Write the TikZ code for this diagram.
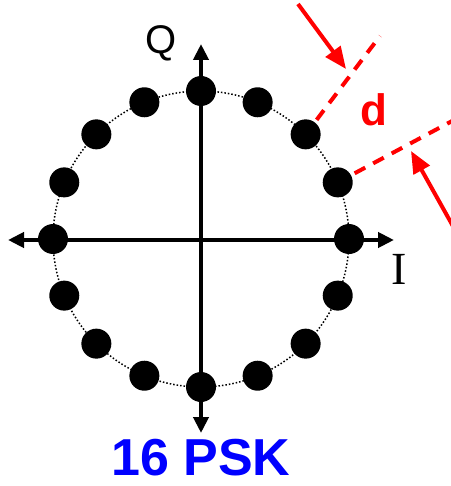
\documentclass[tikz,border=0pt]{standalone}
\usepackage{fontspec}
\setmainfont{Liberation Serif}
\setsansfont{Liberation Sans}
\usetikzlibrary{arrows.meta}
\definecolor{markred}{HTML}{FF0000}
\definecolor{titleblue}{HTML}{0000FF}

\begin{document}
\begin{tikzpicture}[x=1pt, y=-1pt,
  symbol/.style={circle, fill=black, minimum size=30pt, inner sep=0pt},
  axis/.style={{Triangle[length=16pt,width=15pt]}-{Triangle[length=16pt,width=15pt]}, line width=4pt},
  ring/.style={dotted, line width=1.5pt},
  guide/.style={draw=markred, line width=4pt, dash pattern=on 12pt off 9pt},
  pointer/.style={-{Triangle[length=22pt,width=18pt]}, draw=markred, line width=4pt},
  axislabel/.style={inner sep=0pt, font=\fontsize{46}{46}\selectfont},
]
\useasboundingbox (0,0) rectangle (450,486);

\coordinate (origin) at (201,239);
\draw[ring] (origin) circle[radius=148];

% constellation points
\foreach \k in {0,...,15}
  \path (origin) ++(-\k*22.5:148) node[symbol] (s\k) {};

% I/Q axes
\coordinate (west) at (8,240);
\coordinate (east) at (394,240);
\coordinate (north) at (201,44);
\coordinate (south) at (201,433);
\draw[axis] (west) -- (east);
\draw[axis] (north) -- (south);

\node[inner sep=0pt, font=\sffamily\fontsize{40}{40}\selectfont] (qlabel) at (161,43) {Q};
\node[axislabel] (ilabel) at (399,269) {I};

% distance d between neighbours
\coordinate (guideA) at (380,36);
\coordinate (guideB) at (454,120);
\draw[guide, shorten <=3pt] (s2) -- (guideA);
\draw[guide, shorten <=4pt] (s1) -- (guideB);

\coordinate (tailA) at (298,4);
\coordinate (tipA) at (346,69);
\coordinate (tailB) at (454,228);
\coordinate (tipB) at (411,151);
\draw[pointer] (tailA) -- (tipA);
\draw[pointer] (tailB) -- (tipB);

\node[inner sep=0pt, text=markred, font=\sffamily\bfseries\fontsize{44}{44}\selectfont] (dlabel) at (374,110) {d};

\node[inner sep=0pt, text=titleblue, font=\sffamily\bfseries\fontsize{52}{52}\selectfont] (title) at (201,458) {16 PSK};
\end{tikzpicture}
\end{document}
